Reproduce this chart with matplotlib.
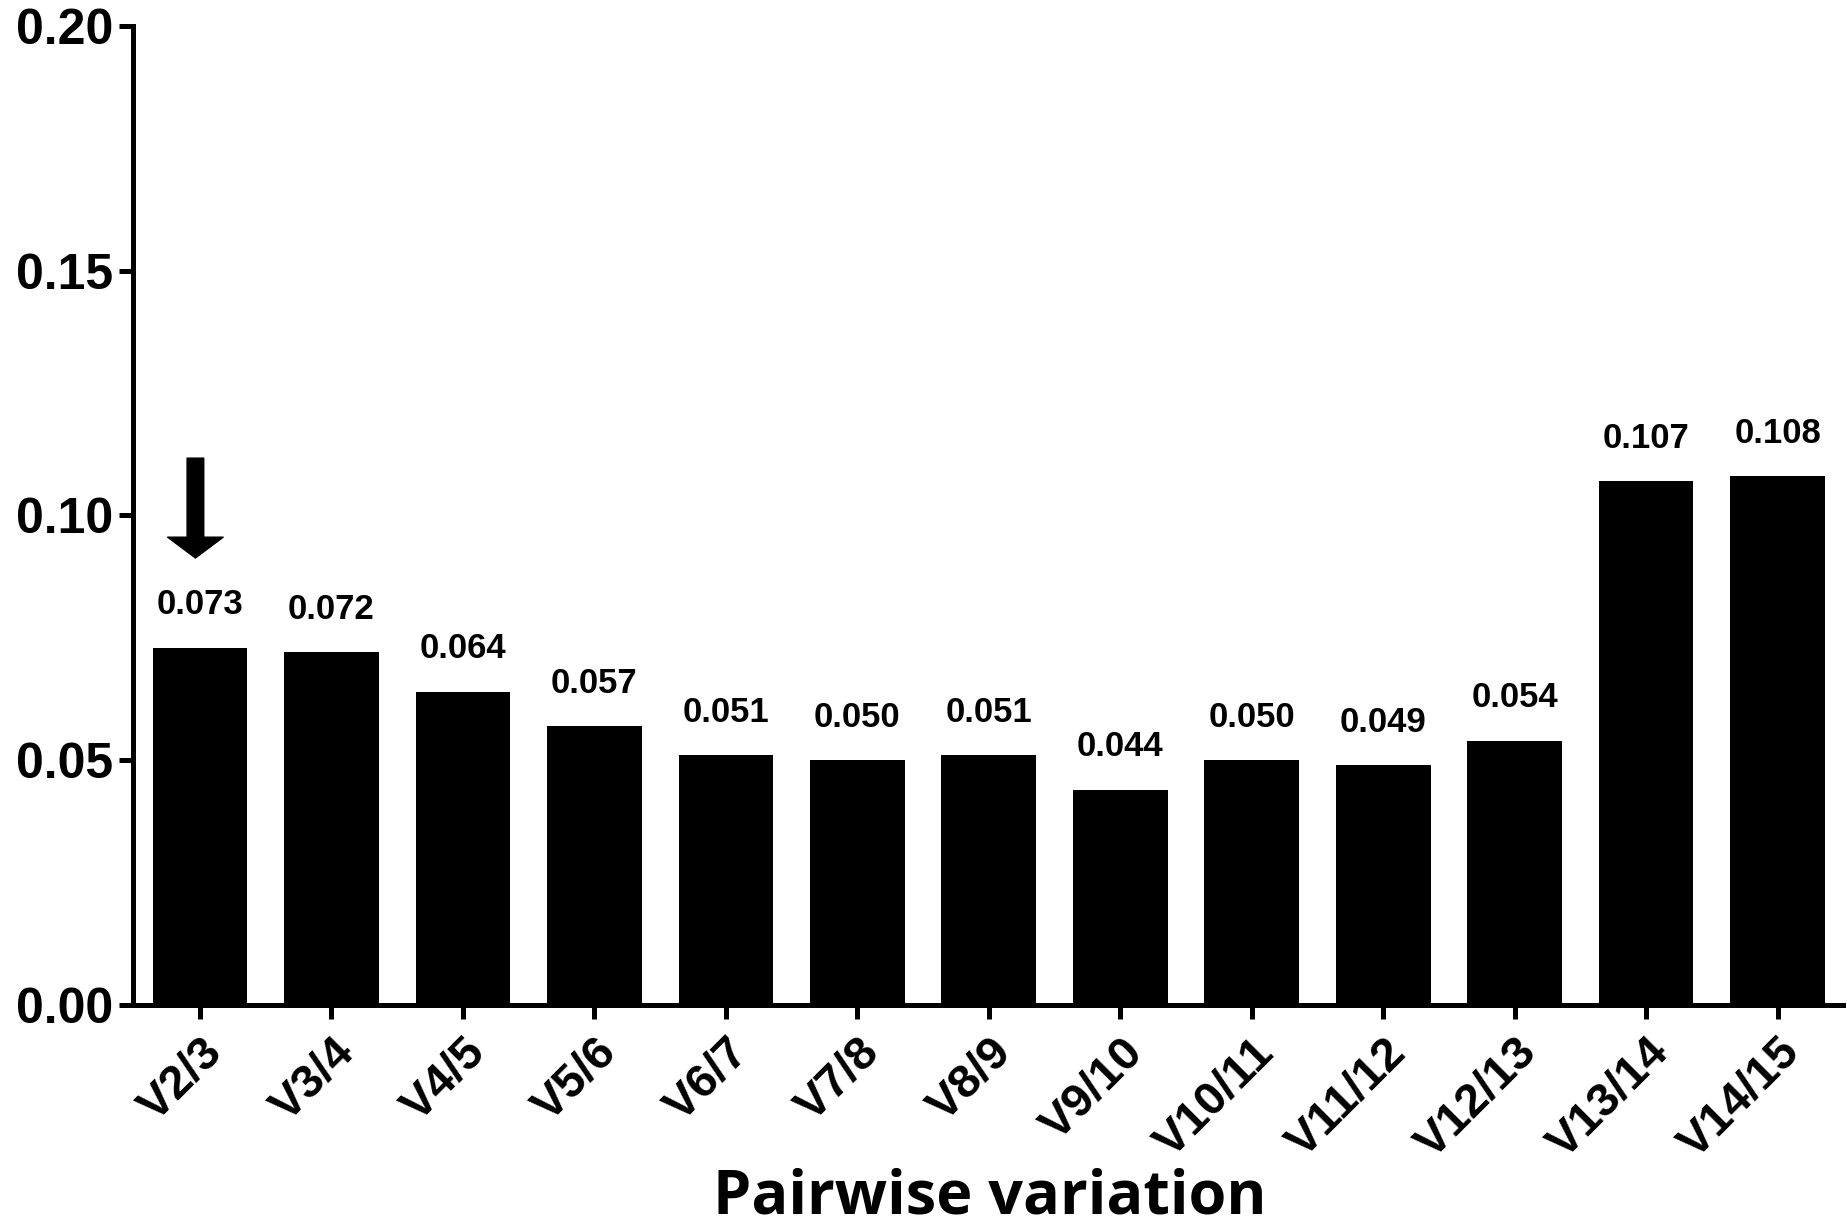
import matplotlib
matplotlib.use("Agg")
import matplotlib.pyplot as plt

# pairwise variation values (geNorm V)
pairs = ["V2/3", "V3/4", "V4/5", "V5/6", "V6/7", "V7/8", "V8/9", "V9/10",
         "V10/11", "V11/12", "V12/13", "V13/14", "V14/15"]
v_values = [0.073, 0.072, 0.064, 0.057, 0.051, 0.050, 0.051, 0.044,
            0.050, 0.049, 0.054, 0.107, 0.108]
y_ticks = [0.00, 0.05, 0.10, 0.15, 0.20]

plt.rcParams['font.family'] = ['Liberation Sans', 'DejaVu Sans']

fig = plt.figure(figsize=(18.47, 12.31), dpi=100)
ax = fig.add_axes([0.072, 0.1836, 0.926, 0.7954])

xs = list(range(len(pairs)))
ax.bar(xs, v_values, width=0.72, color="black")

for x, v in zip(xs, v_values):
    ax.annotate(f"{v:.3f}", xy=(x, v), xytext=(0, 24), textcoords="offset points",
                ha="center", va="baseline", fontsize=25, fontweight="bold")

# arrow marking the chosen pair
ax.annotate("", xy=(-0.035, 0.0913), xytext=(-0.035, 0.1117),
            arrowprops=dict(facecolor="black", edgecolor="black", width=12,
                            headwidth=40, headlength=15, shrink=0))

ax.set_xlim(-0.51, 12.5)
ax.set_ylim(0, 0.20)
ax.set_yticks(y_ticks)
ax.set_yticklabels([f"{t:.2f}" for t in y_ticks], fontsize=36, fontweight="bold")
ax.set_xticks(xs)
ax.set_xticklabels(pairs, rotation=45, ha="right", rotation_mode="anchor",
                   fontsize=34, fontweight="bold")

for side in ["top", "right"]:
    ax.spines[side].set_visible(False)
for side in ["left", "bottom"]:
    ax.spines[side].set_linewidth(3.6)
ax.tick_params(axis="y", length=10, width=3.6, pad=4)
ax.tick_params(axis="x", length=10, width=3.6, pad=8)

fig.text(0.536, 0.014, "Pairwise variation", ha="center", va="baseline",
         fontsize=44, fontweight="bold", family=["Open Sans", "DejaVu Sans"])

fig.savefig("out.png", dpi=100, facecolor="white")
